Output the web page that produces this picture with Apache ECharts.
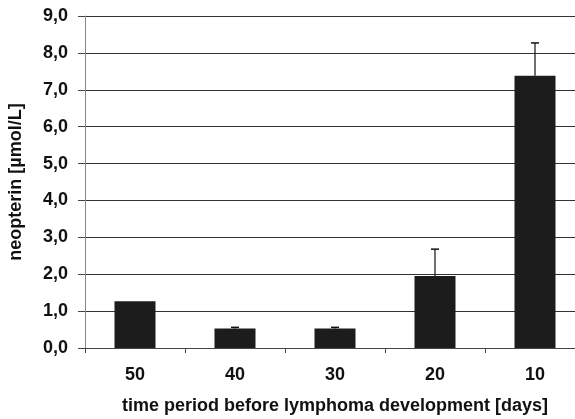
<!DOCTYPE html>
<html>
<head>
<meta charset="utf-8">
<script src="https://cdn.jsdelivr.net/npm/echarts@6/dist/echarts.min.js"></script>
<style>
  html, body { margin: 0; padding: 0; background: #fff; }
  #chart { width: 575px; height: 419px; }
</style>
</head>
<body>
<div id="chart"></div>
<script>
// days before lymphoma development
const categories = ['50', '40', '30', '20', '10']
// mean neopterin (µmol/L)
const means = [1.27, 0.53, 0.53, 1.95, 7.38]
// upper end of error bar (50 days: no visible bar)
const errorTops = [1.27, 0.56, 0.56, 2.68, 8.27]
const yTicks = [0, 1, 2, 3, 4, 5, 6, 7, 8, 9]

const chart = echarts.init(document.getElementById('chart'))

const font = 'Liberation Sans, Arial, sans-serif'

const option = {
  animation: false,
  grid: {
    left: 85,
    top: 16,
    width: 500,
    height: 332,
    outerBoundsMode: 'none',
    containLabel: false
  },
  xAxis: {
    type: 'category',
    data: categories,
    name: 'time period before lymphoma development [days]',
    nameLocation: 'middle',
    nameGap: 49,
    nameTextStyle: { fontFamily: font, fontWeight: 'bold', fontSize: 18, color: '#111' },
    axisLine: { lineStyle: { color: '#444', width: 1 } },
    axisTick: { show: true, length: 5, lineStyle: { color: '#444' } },
    axisLabel: { margin: 18, fontFamily: font, fontWeight: 'bold', fontSize: 18, color: '#111' }
  },
  yAxis: {
    type: 'value',
    min: yTicks[0],
    max: yTicks[yTicks.length - 1],
    interval: 1,
    name: 'neopterin [µmol/L]',
    nameLocation: 'middle',
    nameGap: 60,
    nameTextStyle: { fontFamily: font, fontWeight: 'bold', fontSize: 18, color: '#111' },
    axisLine: { show: true, lineStyle: { color: '#888', width: 1 } },
    axisTick: { show: true, length: 7, lineStyle: { color: '#444' } },
    axisLabel: {
      margin: 17,
      fontFamily: font, fontWeight: 'bold', fontSize: 18, color: '#111',
      formatter: v => v.toFixed(1).replace('.', ',')
    },
    splitLine: { lineStyle: { color: '#333', width: 1 } }
  },
  series: [
    {
      type: 'bar',
      data: means,
      barWidth: 41,
      itemStyle: { color: '#1c1c1c' },
      z: 2
    },
    {
      type: 'custom',
      z: 3,
      data: categories.map((c, i) => [i, means[i], errorTops[i]]),
      renderItem: (params, api) => {
        if (api.value(2) <= api.value(1)) return null
        const base = api.coord([api.value(0), api.value(1)])
        const top = api.coord([api.value(0), api.value(2)])
        const half = 4
        return {
          type: 'group',
          children: [
            { type: 'line', shape: { x1: base[0], y1: base[1], x2: top[0], y2: top[1] },
              style: { stroke: '#111', lineWidth: 1.2 } },
            { type: 'line', shape: { x1: top[0] - half, y1: top[1], x2: top[0] + half, y2: top[1] },
              style: { stroke: '#111', lineWidth: 1.5 } }
          ]
        }
      }
    }
  ]
}

chart.setOption(option)
</script>
</body>
</html>
